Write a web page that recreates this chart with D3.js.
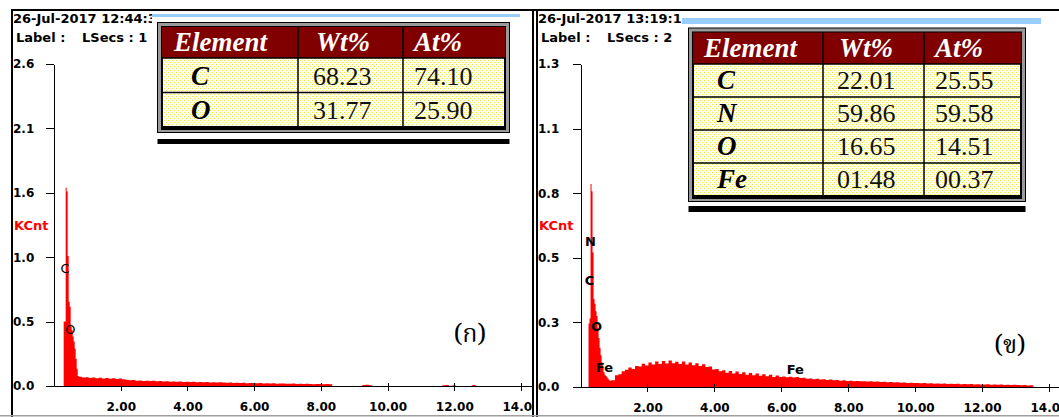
<!DOCTYPE html>
<meta charset="utf-8">
<title>EDS spectra</title>
<style>
  body {
    margin: 0;
    padding: 0;
    background: #fff;
    overflow: hidden;
  }

  svg {
    display: block;
  }

  .axis text {
    font: bold 12px "DejaVu Sans", sans-serif;
    fill: #000;
  }

  .axis path,
  .axis line {
    stroke: #000;
    shape-rendering: crispEdges;
  }

  .hdr {
    font: bold 13px "DejaVu Sans", sans-serif;
    fill: #000;
  }

  .kcnt {
    font: bold 13px "DejaVu Sans", sans-serif;
    fill: #f00;
  }

  .peak {
    font: 13px "DejaVu Sans", sans-serif;
    fill: #000;
  }

  .peak.bold {
    font-weight: bold;
  }

  .tbl-h {
    font: bold italic 27px "Liberation Serif", serif;
    fill: #fff;
  }

  .tbl-el {
    font: bold italic 27px "Liberation Serif", serif;
    fill: #000;
  }

  .tbl-num {
    font: 26px "Liberation Serif", serif;
    fill: #111;
  }

  .thai {
    font: 25px "Noto Serif Thai", "Noto Sans Thai", "Tlwg Typo", "Garuda", "Loma", "Kinnari", serif;
    fill: #000;
  }
</style>

<body>
  <script src="https://cdn.jsdelivr.net/npm/d3@7"></script>
  <script>
    // ---- data ----------------------------------------------------------

    // spectrum (ก): fine channels over the C/O peaks, then 0.1 keV channels
    var peakStartA = 0.29, peakStepA = 0.03;
    var peakCountsA = [0.52, 0.52, 1.60, 1.57, 1.05, 0.68, 0.64, 0.48, 0.45, 0.40, 0.36, 0.30, 0.22, 0.14, 0.08];
    var tailStartA = 0.74, tailStepA = 0.1;
    var tailCountsA = [
      0.074, 0.068, 0.071, 0.065, 0.069, 0.062, 0.066, 0.060, 0.064, 0.058,
      0.062, 0.057, 0.060, 0.055, 0.050, 0.046, 0.048, 0.043, 0.045, 0.041,
      0.043, 0.040, 0.042, 0.038, 0.040, 0.036, 0.038, 0.035, 0.037, 0.034,
      0.036, 0.033, 0.035, 0.032, 0.034, 0.031, 0.033, 0.030, 0.032, 0.029,
      0.031, 0.028, 0.030, 0.028, 0.026, 0.029, 0.025, 0.027, 0.024, 0.026,
      0.023, 0.025, 0.024, 0.022, 0.024, 0.021, 0.023, 0.020, 0.022, 0.019,
      0.021, 0.020, 0.019, 0.018, 0.020, 0.017, 0.019, 0.016, 0.018, 0.017,
      0.015, 0.017, 0.016, 0.015, 0.016, 0.014, 0, 0, 0, 0,
      0, 0, 0, 0, 0, 0.008, 0.010, 0.006, 0, 0,
      0, 0, 0, 0, 0, 0, 0, 0, 0, 0,
      0, 0, 0, 0, 0, 0, 0, 0, 0, 0.007,
      0.009, 0, 0.006, 0, 0, 0, 0, 0, 0.008, 0,
      0, 0, 0, 0, 0, 0, 0, 0, 0, 0
    ];

    // spectrum (ข)
    var peakStartB = 0.24, peakStepB = 0.03;
    var peakCountsB = [0.26, 0.28, 0.83, 0.80, 0.55, 0.36, 0.34, 0.31, 0.29, 0.24, 0.20, 0.16,
      0.13, 0.10, 0.08, 0.06, 0.05, 0.045, 0.04, 0.035, 0.03, 0.025, 0.028];
    var tailStartB = 0.93, tailStepB = 0.1;
    var tailCountsB = [
      0.028, 0.048, 0.052, 0.064, 0.070, 0.080, 0.074, 0.086, 0.084, 0.095,
      0.088, 0.100, 0.092, 0.104, 0.094, 0.106, 0.096, 0.108, 0.097, 0.103,
      0.094, 0.104, 0.092, 0.100, 0.089, 0.097, 0.086, 0.093, 0.082, 0.084,
      0.072, 0.074, 0.064, 0.068, 0.058, 0.065, 0.055, 0.063, 0.053, 0.060,
      0.050, 0.057, 0.048, 0.055, 0.046, 0.052, 0.044, 0.050, 0.041, 0.047,
      0.041, 0.043, 0.040, 0.042, 0.039, 0.041, 0.037, 0.038, 0.034, 0.035,
      0.032, 0.034, 0.031, 0.032, 0.029, 0.031, 0.028, 0.029, 0.026, 0.028,
      0.025, 0.026, 0.024, 0.025, 0.023, 0.024, 0.022, 0.023, 0.021, 0.022,
      0.020, 0.021, 0.019, 0.020, 0.018, 0.019, 0.017, 0.018, 0.016, 0.017,
      0.016, 0.016, 0.015, 0.016, 0.014, 0.015, 0.013, 0.014, 0.013, 0.014,
      0.012, 0.013, 0.012, 0.013, 0.011, 0.012, 0.011, 0.012, 0.010, 0.011,
      0.010, 0.010, 0.011, 0.009, 0.010, 0.009, 0.010, 0.008, 0.009, 0.008,
      0.009, 0.008, 0.007, 0.008, 0.006, 0.007, 0, 0, 0, 0
    ];

    // axes
    var xTicks = [2, 4, 6, 8, 10, 12, 14];
    var yMaxA = 2.6, yTickLabelsA = ["0.0", "0.5", "1.0", "1.6", "2.1", "2.6"];
    var yMaxB = 1.32, yTickLabelsB = ["0.0", "0.3", "0.5", "0.8", "1.1", "1.3"];

    // peak markers: element, energy (keV), height (KCnt)
    var peakNamesA = ["C", "O"];
    var peakKevA = [0.33, 0.49];
    var peakAtA = [0.91, 0.42];
    var peakNamesB = ["N", "C", "O", "Fe", "Fe"];
    var peakKevB = [0.30, 0.27, 0.48, 0.72, 6.42];
    var peakAtB = [0.576, 0.417, 0.229, 0.061, 0.053];

    // header lines
    var dateA = "26-Jul-2017 12:44:3", lsecsA = "1";
    var dateB = "26-Jul-2017 13:19:1", lsecsB = "2";

    // quantification tables
    var tableHeaders = ["Element", "Wt%", "At%"];
    var elementsA = ["C", "O"];
    var wtA = ["68.23", "31.77"];
    var atA = ["74.10", "25.90"];
    var elementsB = ["C", "N", "O", "Fe"];
    var wtB = ["22.01", "59.86", "16.65", "01.48"];
    var atB = ["25.55", "59.58", "14.51", "00.37"];

    // ---- drawing -------------------------------------------------------

    var width = 1059,
      height = 417;

    var svg = d3.select("body").append("svg")
      .attr("width", width)
      .attr("height", height);

    var defs = svg.append("defs");

    // dotted cell fill of the tables
    var pat = defs.append("pattern")
      .attr("id", "dots")
      .attr("width", 4).attr("height", 4)
      .attr("patternUnits", "userSpaceOnUse");
    pat.append("rect").attr("width", 4).attr("height", 4).attr("fill", "#fffff4");
    pat.append("rect").attr("x", 0).attr("y", 0).attr("width", 1).attr("height", 1).attr("fill", "#f0e630");
    pat.append("rect").attr("x", 2).attr("y", 2).attr("width", 1).attr("height", 1).attr("fill", "#f0e630");

    function addClip(id, x, y, w, h) {
      defs.append("clipPath").attr("id", id)
        .append("rect").attr("x", x).attr("y", y).attr("width", w).attr("height", h);
    }
    addClip("clipA", 0, 0, 532, height);
    addClip("clipB", 538, 0, width - 538, height);
    addClip("hdrA", 0, 0, 152, 50);
    addClip("hdrB", 538, 0, 145, 50);

    function drawPanel(p) {
      var g = svg.append("g").attr("clip-path", "url(#" + p.clip + ")");

      var x = d3.scaleLinear().domain([0, p.xMax]).range([p.x0, p.x1]);
      var y = d3.scaleLinear().domain([0, p.yMax]).range([p.y0, 64]);

      var pts = p.peak.map(function (c, i) { return [p.peakStart + i * p.peakStep, c]; })
        .concat(p.tail.map(function (c, i) { return [p.tailStart + i * p.tailStep, c]; }));

      var area = d3.area()
        .curve(d3.curveStepAfter)
        .x(function (d) { return x(d[0]); })
        .y0(y(0))
        .y1(function (d) { return y(d[1]); });

      g.append("path")
        .datum(pts)
        .attr("fill", "#f00")
        .attr("d", area);

      // y axis, ticks pointing left, labels flush at the panel edge
      var yTickVals = d3.range(p.yLabels.length).map(function (i) { return p.yMax * i / (p.yLabels.length - 1); });
      var yAx = g.append("g")
        .attr("class", "axis")
        .attr("transform", "translate(" + p.x0 + ",0)")
        .call(d3.axisLeft(y)
          .tickValues(yTickVals)
          .tickFormat(function (d, i) { return p.yLabels[i]; })
          .tickSize(8)
          .tickSizeOuter(0)
          .tickPadding(13));
      yAx.selectAll("text").attr("text-anchor", "start").attr("x", p.labelX - p.x0);

      // x axis
      var xAx = g.append("g")
        .attr("class", "axis")
        .attr("transform", "translate(0," + p.y0 + ")")
        .call(d3.axisBottom(x)
          .tickValues(xTicks)
          .tickFormat(d3.format(".2f"))
          .tickSizeOuter(0));
      xAx.selectAll(".tick line").attr("y1", -3).attr("y2", 5);
      xAx.selectAll(".tick text").attr("y", 25).attr("dy", null);

      g.append("text")
        .attr("class", "kcnt")
        .attr("x", p.labelX + 1)
        .attr("y", 230)
        .text("KCnt");

      g.selectAll(".peak")
        .data(p.names)
        .enter().append("text")
        .attr("class", p.boldPeaks ? "peak bold" : "peak")
        .attr("text-anchor", "middle")
        .attr("x", function (d, i) { return x(p.kev[i]); })
        .attr("y", function (d, i) { return y(p.at[i]); })
        .text(function (d) { return d; });

      g.append("text")
        .attr("class", "thai")
        .attr("text-anchor", "middle")
        .attr("x", p.tagX)
        .attr("y", p.tagY)
        .text(p.tag);

      // header lines (cut by the table overlay)
      var h = svg.append("g").attr("clip-path", "url(#" + p.hdrClip + ")");
      h.append("text").attr("class", "hdr").attr("x", p.labelX).attr("y", 23).text(p.date);
      h.append("text").attr("class", "hdr").attr("x", p.labelX + 3).attr("y", 42).text("Label :");
      h.append("text").attr("class", "hdr").attr("x", p.labelX + 69).attr("y", 42).text("LSecs : " + p.lsecs);
    }

    function drawTable(t) {
      var g = svg.append("g");
      var w = d3.sum(t.cols);
      var colX = [t.x];
      t.cols.forEach(function (c, i) { colX.push(colX[i] + c); });
      var n = t.elements.length;
      var innerH = t.headH + n * t.rowH;

      // light blue bar above the table
      g.append("rect")
        .attr("x", t.barX).attr("y", t.barY)
        .attr("width", t.barW).attr("height", t.barH)
        .attr("fill", "#99ccff");

      // grey bevelled frame
      g.append("rect")
        .attr("x", t.x - 4.5).attr("y", t.y - 4.5)
        .attr("width", w + 9).attr("height", innerH + 10)
        .attr("fill", "#9a9a9a").attr("stroke", "#000").attr("stroke-width", 1);
      g.append("rect")
        .attr("x", t.x).attr("y", t.y)
        .attr("width", w).attr("height", innerH)
        .attr("fill", "url(#dots)").attr("stroke", "#000").attr("stroke-width", 2);
      g.append("rect")
        .attr("x", t.x).attr("y", t.y)
        .attr("width", w).attr("height", t.headH)
        .attr("fill", "#800000");

      // grid
      d3.range(1, n + 1).forEach(function (i) {
        g.append("line")
          .attr("x1", t.x).attr("x2", t.x + w)
          .attr("y1", t.y + t.headH + (i - 1) * t.rowH).attr("y2", t.y + t.headH + (i - 1) * t.rowH)
          .attr("stroke", "#000").attr("stroke-width", 1.5);
      });
      [1, 2].forEach(function (i) {
        g.append("line")
          .attr("x1", colX[i]).attr("x2", colX[i])
          .attr("y1", t.y).attr("y2", t.y + innerH)
          .attr("stroke", "#000").attr("stroke-width", 1.5);
      });
      g.append("line")
        .attr("x1", t.x - 1).attr("x2", t.x + w + 1)
        .attr("y1", t.y + innerH + 1.5).attr("y2", t.y + innerH + 1.5)
        .attr("stroke", "#000").attr("stroke-width", 3);

      // heavy rule below
      g.append("rect")
        .attr("x", t.x - 4.5).attr("y", t.ruleY)
        .attr("width", w + 9).attr("height", t.ruleH)
        .attr("fill", "#000");

      // header text
      tableHeaders.forEach(function (txt, i) {
        g.append("text")
          .attr("class", "tbl-h")
          .attr("x", colX[i] + t.headOff[i])
          .attr("y", t.y + t.headH - 7)
          .text(txt);
      });

      // rows
      t.elements.forEach(function (el, r) {
        var by = t.y + t.headH + (r + 1) * t.rowH - 8;
        g.append("text").attr("class", "tbl-el").attr("x", colX[0] + t.rowOff[0]).attr("y", by).text(el);
        g.append("text").attr("class", "tbl-num").attr("x", colX[1] + t.rowOff[1]).attr("y", by).text(t.wt[r]);
        g.append("text").attr("class", "tbl-num").attr("x", colX[2] + t.rowOff[2]).attr("y", by).text(t.at[r]);
      });
    }

    drawPanel({
      clip: "clipA", hdrClip: "hdrA",
      x0: 54, x1: 533, xMax: 14.36,
      y0: 386, yMax: yMaxA, yLabels: yTickLabelsA,
      labelX: 13,
      peak: peakCountsA, peakStart: peakStartA, peakStep: peakStepA,
      tail: tailCountsA, tailStart: tailStartA, tailStep: tailStepA,
      names: peakNamesA, kev: peakKevA, at: peakAtA, boldPeaks: false,
      tag: "(ก)", tagX: 470, tagY: 342,
      date: dateA, lsecs: lsecsA
    });

    drawPanel({
      clip: "clipB", hdrClip: "hdrB",
      x0: 580.5, x1: 1059, xMax: 14.3,
      y0: 387, yMax: yMaxB, yLabels: yTickLabelsB,
      labelX: 538,
      peak: peakCountsB, peakStart: peakStartB, peakStep: peakStepB,
      tail: tailCountsB, tailStart: tailStartB, tailStep: tailStepB,
      names: peakNamesB, kev: peakKevB, at: peakAtB, boldPeaks: true,
      tag: "(ข)", tagX: 1010, tagY: 353,
      date: dateB, lsecs: lsecsB
    });

    // window frame lines
    svg.append("rect").attr("x", 11).attr("y", 9).attr("width", width - 11).attr("height", 2).attr("fill", "#000");
    svg.append("rect").attr("x", 11).attr("y", 9).attr("width", 2).attr("height", height - 9).attr("fill", "#000");
    svg.append("rect").attr("x", 532).attr("y", 9).attr("width", 2).attr("height", height - 9).attr("fill", "#000");
    svg.append("rect").attr("x", 536).attr("y", 9).attr("width", 2).attr("height", height - 9).attr("fill", "#000");
    svg.append("rect").attr("x", 0).attr("y", 415).attr("width", width).attr("height", 1.5).attr("fill", "#a0a0a0");

    drawTable({
      x: 162, y: 27, cols: [136, 105, 102], headH: 31, rowH: 34.5,
      headOff: [12, 18, 11], rowOff: [29, 15, 11],
      barX: 152, barY: 14, barW: 368, barH: 3,
      ruleY: 139, ruleH: 5,
      elements: elementsA, wt: wtA, at: atA
    });

    drawTable({
      x: 693, y: 32.5, cols: [130, 101, 97], headH: 31.5, rowH: 33,
      headOff: [11, 16, 11], rowOff: [24, 14, 11],
      barX: 682, barY: 18, barW: 359, barH: 6,
      ruleY: 206, ruleH: 6,
      elements: elementsB, wt: wtB, at: atB
    });
  </script>
</body>
